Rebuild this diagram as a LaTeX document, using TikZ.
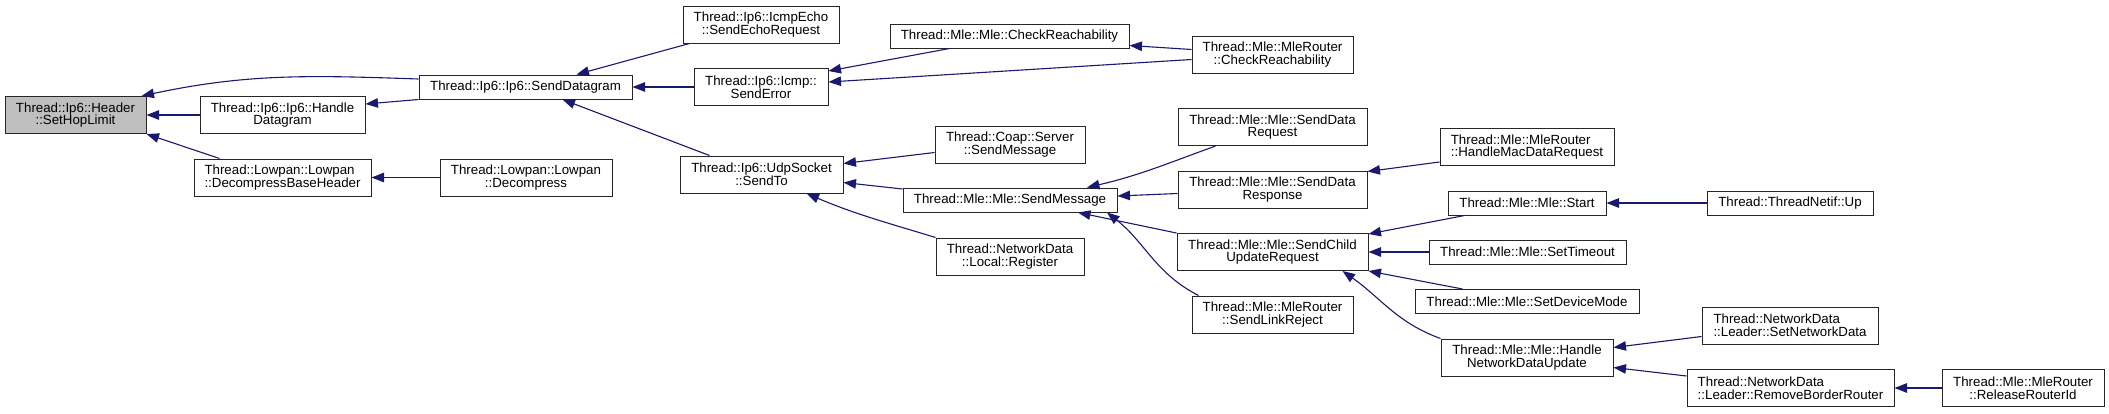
\documentclass[tikz,border=0pt]{standalone}
\usepackage{fontspec}
\setmainfont{Liberation Sans}
\usetikzlibrary{arrows.meta}
\definecolor{midnightblue}{HTML}{191970}
\definecolor{nodegray}{HTML}{BFBFBF}
\tikzset{
  fnbox/.style={draw=black!85, line width=1pt, inner sep=2pt, minimum height=24pt,
    font=\fontsize{13.3}{12.8}\selectfont},
  fnboxtwo/.style={fnbox, minimum height=37pt, align=center},
  callarrow/.style={midnightblue, line width=1.1pt, -{Triangle[length=12.5pt,width=9.5pt]}}
}
\begin{document}
\begin{tikzpicture}[x=1pt,y=1pt]
  \useasboundingbox (0,0) rectangle (2109,-413);
  % functions
  \node[fnboxtwo, fill=nodegray, minimum width=141] (hop) at (75.5,-115) {Thread::Ip6::Header\\::SetHopLimit};
  \node[fnboxtwo, minimum width=165] (handledg) at (282.5,-115) {Thread::Ip6::Ip6::Handle\\Datagram};
  \node[fnbox, minimum width=213] (senddg) at (525.5,-87) {Thread::Ip6::Ip6::SendDatagram};
  \node[fnboxtwo, align=left, minimum width=177] (decbase) at (282.5,-177.5) {Thread::Lowpan::Lowpan\\::DecompressBaseHeader};
  \node[fnboxtwo, minimum width=172] (decomp) at (526,-177.5) {Thread::Lowpan::Lowpan\\::Decompress};
  \node[fnboxtwo, minimum width=156] (echo) at (761,-24.5) {Thread::Ip6::IcmpEcho\\::SendEchoRequest};
  \node[fnboxtwo, minimum width=134] (senderr) at (761,-87) {Thread::Ip6::Icmp::\\SendError};
  \node[fnboxtwo, minimum width=163] (sendto) at (761.5,-174.5) {Thread::Ip6::UdpSocket\\::SendTo};
  \node[fnbox, minimum width=239] (checkreach) at (1009.5,-36) {Thread::Mle::Mle::CheckReachability};
  \node[fnboxtwo, minimum width=150] (coapmsg) at (1010,-144.5) {Thread::Coap::Server\\::SendMessage};
  \node[fnbox, minimum width=214] (mlemsg) at (1010,-200) {Thread::Mle::Mle::SendMessage};
  \node[fnboxtwo, minimum width=148] (register) at (1010,-256.5) {Thread::NetworkData\\::Local::Register};
  \node[fnboxtwo, minimum width=161] (rcheckreach) at (1272.5,-54.5) {Thread::Mle::MleRouter\\::CheckReachability};
  \node[fnboxtwo, minimum width=189] (datareq) at (1272.5,-127) {Thread::Mle::Mle::SendData\\Request};
  \node[fnboxtwo, minimum width=189] (dataresp) at (1272.5,-189.5) {Thread::Mle::Mle::SendData\\Response};
  \node[fnboxtwo, minimum width=191] (childupd) at (1272.5,-252) {Thread::Mle::Mle::SendChild\\UpdateRequest};
  \node[fnboxtwo, minimum width=161] (linkrej) at (1272.5,-314.5) {Thread::Mle::MleRouter\\::SendLinkReject};
  \node[fnboxtwo, align=left, minimum width=174] (macdata) at (1527,-147) {Thread::Mle::MleRouter\\::HandleMacDataRequest};
  \node[fnbox, minimum width=158] (start) at (1527,-203) {Thread::Mle::Mle::Start};
  \node[fnbox, minimum width=197] (timeout) at (1527.5,-252) {Thread::Mle::Mle::SetTimeout};
  \node[fnbox, minimum width=224] (devmode) at (1527,-301.5) {Thread::Mle::Mle::SetDeviceMode};
  \node[fnboxtwo, minimum width=172] (netupd) at (1527,-357.5) {Thread::Mle::Mle::Handle\\NetworkDataUpdate};
  \node[fnbox, minimum width=166] (netifup) at (1790,-203) {Thread::ThreadNetif::Up};
  \node[fnboxtwo, align=left, minimum width=176] (setnet) at (1790,-325.5) {Thread::NetworkData\\::Leader::SetNetworkData};
  \node[fnboxtwo, align=left, minimum width=207] (rmbr) at (1790.5,-388) {Thread::NetworkData\\::Leader::RemoveBorderRouter};
  \node[fnboxtwo, minimum width=162] (release) at (2023,-388) {Thread::Mle::MleRouter\\::ReleaseRouterId};
  % calls
  \foreach \a/\b in {handledg/hop, decomp/decbase, senderr/senddg, timeout/childupd, netifup/start, release/rmbr}
    \draw[callarrow] (\a.west) -- (\b.east);
  \draw[callarrow] ([yshift=8pt]senddg.west) to[out=178,in=12] ([xshift=-5pt]hop.north east);
  \draw[callarrow] ([xshift=26pt]decbase.north west) -- (hop.south east);
  \draw[callarrow] (senddg.south west) -- ([yshift=11pt]handledg.east);
  \draw[callarrow] ([xshift=7pt]echo.south west) -- ([xshift=51pt]senddg.north);
  \draw[callarrow] ([xshift=30pt]sendto.north west) -- ([xshift=37pt]senddg.south);
  \draw[callarrow] ([xshift=60pt]checkreach.south west) -- ([yshift=-3pt]senderr.north east);
  \draw[callarrow] ([yshift=-5pt]rcheckreach.west) -- ([yshift=5pt]senderr.east);
  \draw[callarrow] ([yshift=5pt]rcheckreach.west) -- ([yshift=3pt]checkreach.south east);
  \draw[callarrow] ([yshift=-8pt]coapmsg.west) -- ([yshift=11pt]sendto.east);
  \draw[callarrow] ([yshift=11pt]mlemsg.west) -- ([yshift=-8pt]sendto.east);
  \draw[callarrow] (register.north west) to[out=163,in=-23] ([xshift=45pt]sendto.south);
  \draw[callarrow] ([xshift=-57pt]datareq.south) to[out=200,in=13] ([xshift=77pt]mlemsg.north);
  \draw[callarrow] ([yshift=-4pt]dataresp.west) -- ([yshift=4pt]mlemsg.east);
  \draw[callarrow] (childupd.north west) -- ([xshift=68pt]mlemsg.south);
  \draw[callarrow] ([xshift=7pt]linkrej.north west) to[out=153,in=-38] ([xshift=97pt]mlemsg.south);
  \draw[callarrow] ([yshift=-15pt]macdata.west) -- ([yshift=-1pt]dataresp.north east);
  \draw[callarrow] ([xshift=17pt]start.south west) -- ([yshift=-1pt]childupd.north east);
  \draw[callarrow] ([xshift=48pt]devmode.north west) -- (childupd.south east);
  \draw[callarrow] (netupd.north west) to[out=160,in=-35] ([xshift=70pt]childupd.south);
  \draw[callarrow] ([yshift=-11pt]setnet.west) -- ([yshift=10pt]netupd.east);
  \draw[callarrow] ([yshift=12pt]rmbr.west) -- ([yshift=-10pt]netupd.east);
\end{tikzpicture}
\end{document}
